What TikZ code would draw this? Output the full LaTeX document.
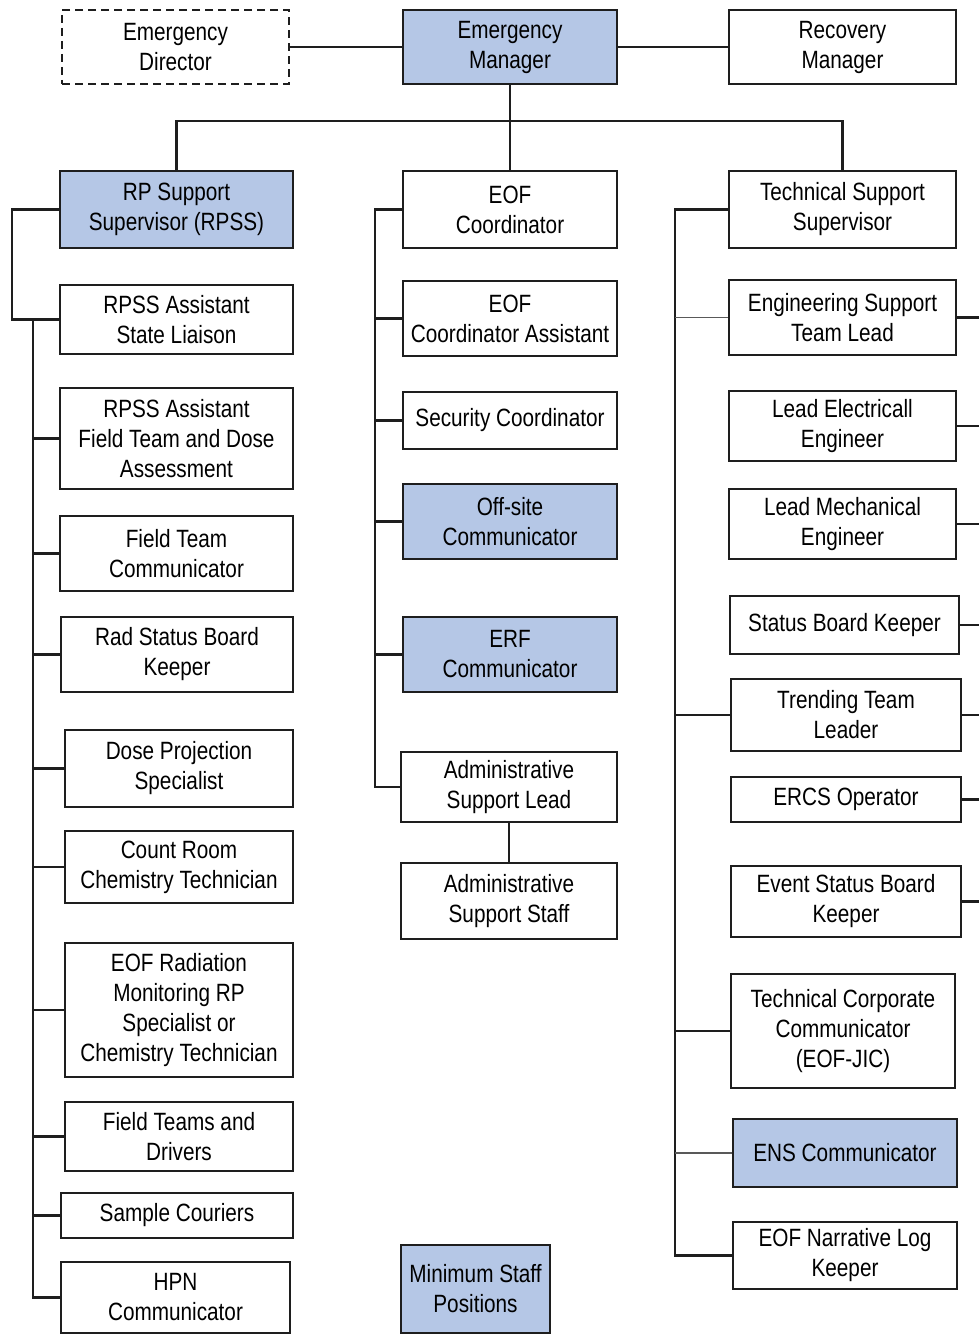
\documentclass[tikz,border=0pt]{standalone}
\usepackage{fontspec}
\setmainfont{Liberation Sans}[FakeStretch=0.83]
\definecolor{minblue}{RGB}{181,199,230}
\definecolor{edgegray}{RGB}{30,30,30}
\tikzset{
  box/.style={draw=edgegray, line width=2.4pt, fill=white, align=center, inner sep=0pt,
    font=\fontsize{25}{30}\selectfont},
  keybox/.style={box, fill=minblue},
  dashbox/.style={box, dash pattern=on 8pt off 5pt},
  link/.style={draw=edgegray, line width=2.3pt},
  thinlink/.style={draw=gray!70!black, line width=1.3pt}
}
\begin{document}
\begin{tikzpicture}[x=1pt,y=-1pt]
\useasboundingbox (0,0) rectangle (979,1335);
% top row
\node[dashbox, minimum width=227, minimum height=74] (ed) at (175.5,47) {Emergency\\Director};
\node[keybox, minimum width=214, minimum height=74] (em) at (510,47) {Emergency\\Manager};
\node[box, minimum width=227, minimum height=74] (rm) at (842.5,47) {Recovery\\Manager};
% second row
\node[keybox, minimum width=233, minimum height=77] (rpss) at (176.5,209.5) {RP Support\\Supervisor (RPSS)};
\node[box, minimum width=214, minimum height=77] (eofc) at (510,209.5) {EOF\\Coordinator};
\node[box, minimum width=227, minimum height=77] (tss) at (842.5,209.5) {Technical Support\\Supervisor};
% left column
\node[box, minimum width=233, minimum height=69] (l1) at (176.5,319.5) {RPSS Assistant\\State Liaison};
\node[box, minimum width=233, minimum height=101] (l2) at (176.5,438.5) {RPSS Assistant\\Field Team and Dose\\Assessment};
\node[box, minimum width=233, minimum height=75] (l3) at (176.5,553.5) {Field Team\\Communicator};
\node[box, minimum width=232, minimum height=75] (l4) at (177,654.5) {Rad Status Board\\Keeper};
\node[box, minimum width=228, minimum height=77] (l5) at (179,768.5) {Dose Projection\\Specialist};
\node[box, minimum width=228, minimum height=72] (l6) at (179,867) {Count Room\\Chemistry Technician};
\node[box, minimum width=228, minimum height=134] (l7) at (179,1010) {EOF Radiation\\Monitoring RP\\Specialist or\\Chemistry Technician};
\node[box, minimum width=228, minimum height=69] (l8) at (179,1136.5) {Field Teams and\\Drivers};
\node[box, minimum width=232, minimum height=45] (l9) at (177,1215.5) {Sample Couriers};
\node[box, minimum width=229, minimum height=71] (l10) at (175.5,1297.5) {HPN\\Communicator};
% middle column
\node[box, minimum width=214, minimum height=75] (m1) at (510,318.5) {EOF\\Coordinator Assistant};
\node[box, minimum width=214, minimum height=57] (m2) at (510,420.5) {Security Coordinator};
\node[keybox, minimum width=214, minimum height=75] (m3) at (510,521.5) {Off-site\\Communicator};
\node[keybox, minimum width=214, minimum height=75] (m4) at (510,654.5) {ERF\\Communicator};
\node[box, minimum width=216, minimum height=70] (m5) at (509,787) {Administrative\\Support Lead};
\node[box, minimum width=216, minimum height=76] (m6) at (509,901) {Administrative\\Support Staff};
\node[keybox, minimum width=149, minimum height=88] (msp) at (475.5,1289) {Minimum Staff\\Positions};
% right column
\node[box, minimum width=227, minimum height=75] (r1) at (842.5,317.5) {Engineering Support\\Team Lead};
\node[box, minimum width=227, minimum height=70] (r2) at (842.5,426) {Lead Electricall\\Engineer};
\node[box, minimum width=227, minimum height=70] (r3) at (842.5,524) {Lead Mechanical\\Engineer};
\node[box, minimum width=229, minimum height=58] (r4) at (844.5,625) {Status Board Keeper};
\node[box, minimum width=230, minimum height=72] (r5) at (846,715) {Trending Team\\Leader};
\node[box, minimum width=230, minimum height=45] (r6) at (846,799.5) {ERCS Operator};
\node[box, minimum width=230, minimum height=71] (r7) at (846,901.5) {Event Status Board\\Keeper};
\node[box, minimum width=224, minimum height=114] (r8) at (843,1031) {Technical Corporate\\Communicator\\(EOF-JIC)};
\node[keybox, minimum width=224, minimum height=68] (r9) at (845,1153) {ENS Communicator};
\node[box, minimum width=224, minimum height=67] (r10) at (845,1255.5) {EOF Narrative Log\\Keeper};
% helper coordinates
\coordinate (bar) at (510,121);
\coordinate (lbend) at (12,209.5);
\coordinate (ltop) at (33,319.5);
\coordinate (mtop) at (375,209.5);
\coordinate (rtop) at (675,209.5);
\coordinate (edge) at (979,0);
% top connectors
\draw[link] (ed.east) -- (em.west);
\draw[link] (em.east) -- (rm.west);
\draw[link] (em.south) -- (bar);
\draw[link] (rpss.north) |- (bar) -| (tss.north);
\draw[link] (bar) -- (eofc.north);
% left connectors
\draw[link] (rpss.west) -- (lbend) |- (l1.west);
\draw[link] (ltop) |- (l10.west);
\foreach \n in {l2,l3,l4,l5,l6,l7,l8,l9}
  \draw[link] (\n.west) -- (\n.west -| ltop);
% middle connectors
\draw[link] (eofc.west) -- (mtop) |- (m5.west);
\foreach \n in {m1,m2,m3,m4}
  \draw[link] (\n.west) -- (\n.west -| mtop);
\draw[link] (m5.south) -- (m6.north);
% right connectors
\draw[link] (tss.west) -- (rtop) |- (r10.west);
\foreach \n in {r5,r8}
  \draw[link] (\n.west) -- (\n.west -| rtop);
\foreach \n in {r1,r9}
  \draw[thinlink] (\n.west) -- (\n.west -| rtop);
\foreach \n in {r1,r2,r3,r4,r5,r6,r7}
  \draw[link] (\n.east) -- (\n.east -| edge);
\end{tikzpicture}
\end{document}
